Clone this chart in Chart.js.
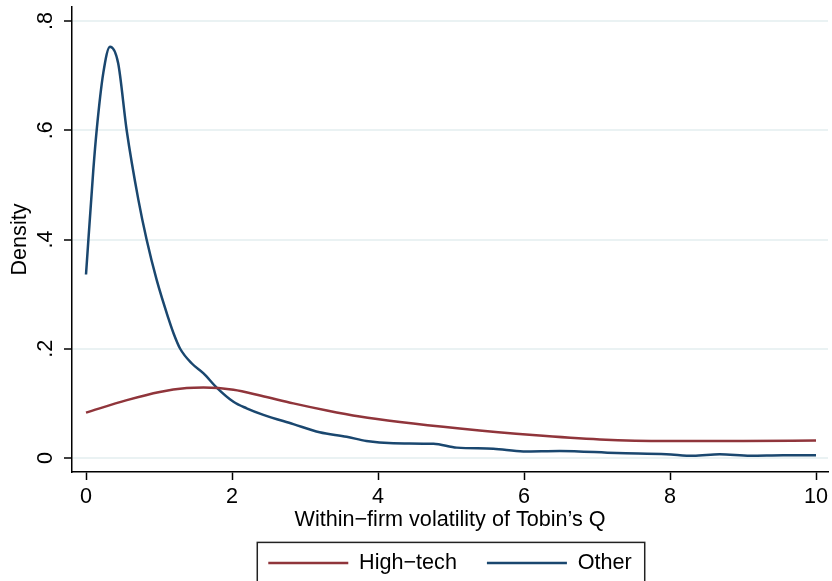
<!DOCTYPE html>
<html>
<head>
<meta charset="utf-8">
<script src="https://cdn.jsdelivr.net/npm/chart.js@4.4.1/dist/chart.umd.min.js"></script>
<style>
  html, body { margin: 0; padding: 0; background: #fff; }
  #wrap { width: 832px; height: 581px; }
</style>
</head>
<body>
<div id="wrap"><canvas id="densityChart"></canvas></div>
<script>
// Kernel density of within-firm volatility of Tobin's Q

const highTechX = [0, 0.56, 1.01, 1.38, 1.61, 2.02, 2.4, 2.84, 3.3, 3.75, 4.3, 5.12, 6.12, 7.04, 7.95, 9.0, 10];
const highTechY = [0.083, 0.106, 0.121, 0.128, 0.129, 0.125, 0.114, 0.100, 0.087, 0.076, 0.066, 0.054, 0.042, 0.034, 0.031, 0.031, 0.032];

const otherX = [0, 0.1, 0.146, 0.237, 0.329, 0.44, 0.557, 0.717, 0.83, 0.968, 1.128, 1.2, 1.29, 1.45, 1.61, 1.79, 2.02, 2.2, 2.43, 2.84, 3.2, 3.57, 3.84, 4.21, 4.76, 5.08, 5.58, 5.99, 6.49, 7.27, 7.95, 8.32, 8.68, 9.1, 9.55, 10];
const otherY = [0.336, 0.527, 0.60, 0.705, 0.753, 0.723, 0.60, 0.473, 0.40, 0.326, 0.256, 0.228, 0.200, 0.173, 0.155, 0.129, 0.103, 0.091, 0.079, 0.062, 0.047, 0.039, 0.031, 0.027, 0.026, 0.019, 0.017, 0.012, 0.013, 0.009, 0.007, 0.004, 0.007, 0.004, 0.005, 0.005];

const xTicks = [0, 2, 4, 6, 8, 10];
const yTicks = [0, 0.2, 0.4, 0.6, 0.8];

const toPoints = (xs, ys) => xs.map((x, i) => ({ x: x, y: ys[i] }));

Chart.defaults.font.family = '"Liberation Sans", Arial, Helvetica, sans-serif';
Chart.defaults.font.size = 21.6;
Chart.defaults.color = '#000';

// draws the box around the legend, like Stata does
const legendBox = {
    id: 'legendBox',
    afterDraw(chart) {
        const boxes = chart.legend.legendHitBoxes;
        if (!boxes || !boxes.length) return;
        const first = boxes[0];
        const last = boxes[boxes.length - 1];
        const mid = first.top + first.height / 2;
        const left = first.left - 11;
        const right = last.left + last.width + 13;
        const ctx = chart.ctx;
        ctx.save();
        ctx.strokeStyle = '#222';
        ctx.lineWidth = 1.5;
        ctx.strokeRect(left, mid - 20.6, right - left, 60);
        ctx.restore();
    }
};

const config = {
    type: 'line',
    data: {
        datasets: [{
            label: 'High\u2212tech',
            data: toPoints(highTechX, highTechY),
            borderColor: '#90353b',
            backgroundColor: '#90353b',
            borderWidth: 2.5,
            pointRadius: 0,
            cubicInterpolationMode: 'monotone'
        }, {
            label: 'Other',
            data: toPoints(otherX, otherY),
            borderColor: '#1a476f',
            backgroundColor: '#1a476f',
            borderWidth: 2.5,
            pointRadius: 0,
            cubicInterpolationMode: 'monotone'
        }]
    },
    options: {
        responsive: true,
        maintainAspectRatio: false,
        animation: false,
        layout: {
            padding: { top: 7, right: 4, bottom: -2.8, left: 0 }
        },
        scales: {
            x: {
                type: 'linear',
                min: -0.1918,
                max: 10.164,
                afterBuildTicks: s => { s.ticks = xTicks.map(v => ({ value: v })); },
                afterFit: s => { s.height = 50.2; s.paddingLeft = 0; s.paddingRight = 0; },
                grid: {
                    drawOnChartArea: false,
                    tickLength: 8,
                    tickColor: '#000',
                    tickWidth: 1.5
                },
                border: { color: '#000', width: 1.5 },
                ticks: { padding: 4, maxRotation: 0, autoSkip: false },
                title: {
                    display: true,
                    text: 'Within\u2212firm volatility of Tobin\u2019s Q',
                    padding: { top: 0, bottom: -11 }
                }
            },
            y: {
                min: -0.02563,
                max: 0.8257,
                afterBuildTicks: s => { s.ticks = yTicks.map(v => ({ value: v })); },
                afterFit: s => { s.width = 72; s.paddingTop = 0; s.paddingBottom = 0; },
                grid: {
                    color: '#eaf2f3',
                    lineWidth: 2,
                    tickLength: 8,
                    tickColor: '#000',
                    tickWidth: 1.5
                },
                border: { color: '#000', width: 1.5 },
                ticks: {
                    minRotation: 90,
                    maxRotation: 90,
                    crossAlign: 'center',
                    padding: 8.5,
                    autoSkip: false,
                    callback: v => v === 0 ? '0' : v.toFixed(1).replace(/^0/, '')
                },
                title: {
                    display: true,
                    text: 'Density',
                    padding: { top: 7, bottom: 0 }
                }
            }
        },
        plugins: {
            legend: {
                display: true,
                position: 'bottom',
                fullSize: false,
                labels: {
                    usePointStyle: true,
                    pointStyle: 'line',
                    pointStyleWidth: 80,
                    padding: 30
                }
            },
            tooltip: { enabled: false }
        }
    },
    plugins: [legendBox]
};

const densityChart = new Chart(document.getElementById('densityChart'), config);
</script>
</body>
</html>
